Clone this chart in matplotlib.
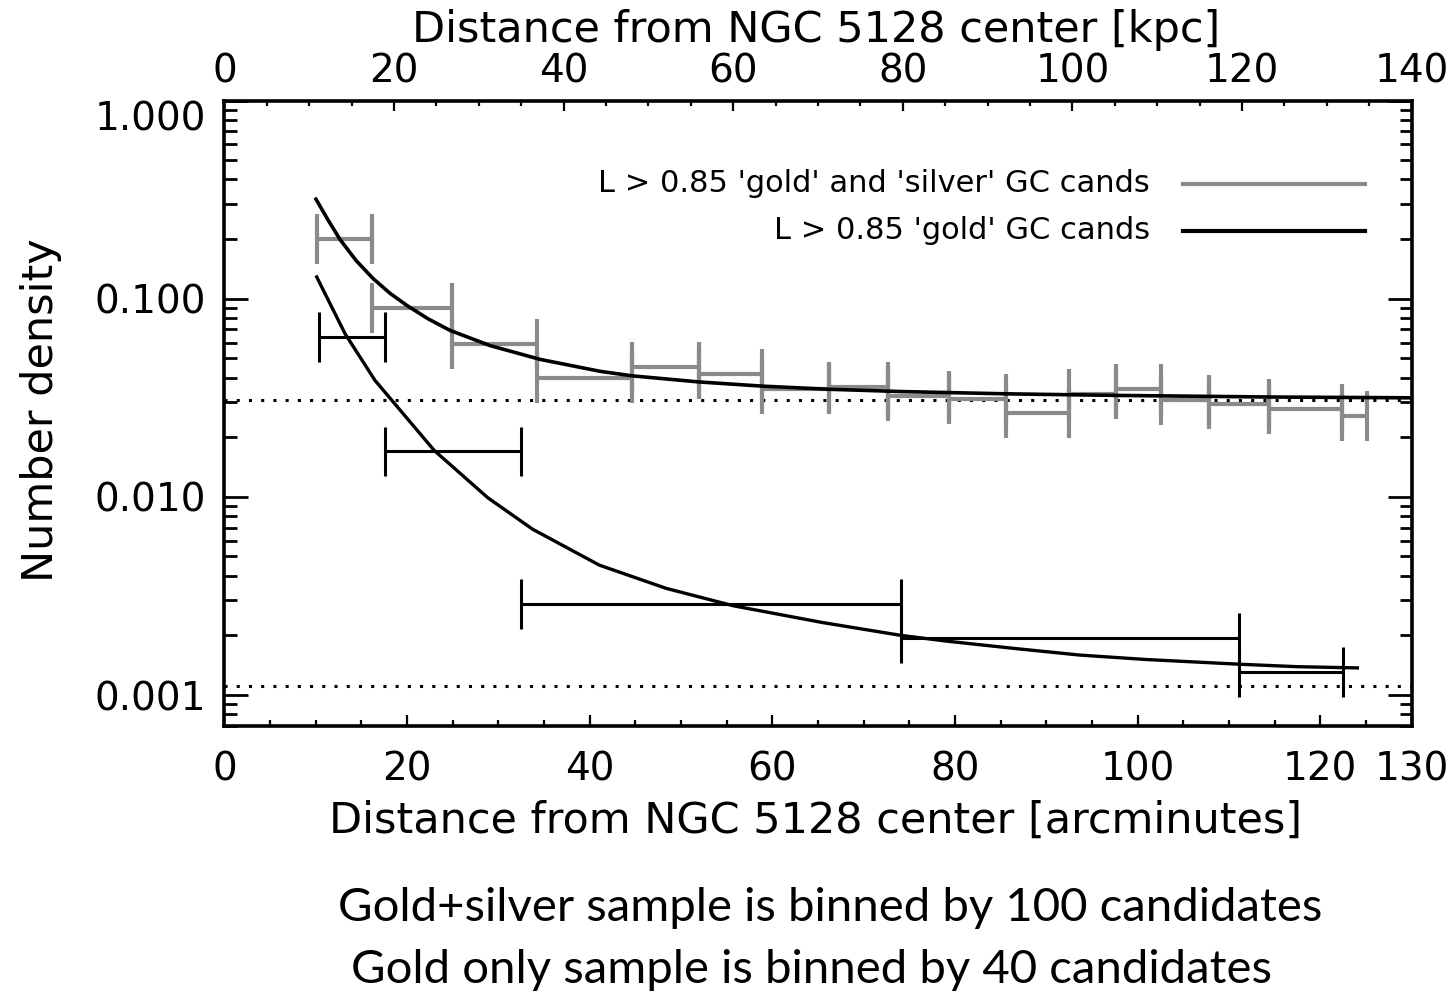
import numpy as np
import matplotlib
matplotlib.use("Agg")
import matplotlib.pyplot as plt
from matplotlib.ticker import MultipleLocator, LogLocator, NullFormatter, FixedLocator

# gold + silver sample, binned by 100 candidates (arcmin edges, density)
gs_edges = [10.16, 16.18, 24.88, 34.21, 44.66, 51.96, 58.83, 66.17, 72.63,
            79.35, 85.62, 92.47, 97.66, 102.51, 107.84, 114.33, 122.34, 125.15]
gs_dens = [0.200, 0.0897, 0.0588, 0.0398, 0.0452, 0.0418, 0.0351, 0.0359, 0.0321,
           0.0313, 0.0265, 0.0329, 0.0351, 0.0307, 0.0295, 0.0276, 0.0255]

# gold only sample, binned by 40 candidates
g_edges = [10.38, 17.58, 32.50, 74.05, 111.13, 122.51]
g_dens = [0.0642, 0.01694, 0.00288, 0.00194, 0.00130]

# fitted profiles
gs_fit_r = [10.02, 11.33, 12.65, 14.40, 16.26, 18.12, 19.98, 22.28, 24.69, 29.07,
            34.55, 41.12, 44.62, 51.96, 58.86, 66.19, 73.97, 85.58, 97.63, 114.4, 129.9]
gs_fit_n = [0.3178, 0.2500, 0.1990, 0.1560, 0.1265, 0.1065, 0.0924, 0.0792, 0.0692, 0.0580,
            0.0494, 0.0430, 0.0408, 0.0380, 0.0362, 0.0349, 0.0340, 0.0331, 0.0325, 0.0319, 0.0316]

g_fit_r = [10.10, 13.20, 16.48, 22.97, 28.84, 33.73, 41.06, 48.39, 55.73,
           65.51, 74.05, 79.08, 86.38, 93.68, 100.98, 111.13, 117.41, 124.05]
g_fit_n = [0.1287, 0.0666, 0.0387, 0.01714, 0.00989, 0.00687, 0.00452, 0.00345, 0.00282,
           0.00232, 0.00200, 0.00187, 0.00172, 0.00159, 0.00151, 0.00143, 0.00139, 0.00137]

# background levels
bg_gs = 0.0307
bg_g = 0.00111

yticks = [0.001, 0.01, 0.1, 1.0]
ytick_labels = ["0.001", "0.010", "0.100", "1.000"]

GRAY = "#8a8a8a"
cap = 10 ** 0.126

fig = plt.figure(figsize=(14.52, 10), dpi=100)
ax = fig.add_axes([0.1546, 0.2743, 0.8176, 0.6252])


def draw_bins(edges, dens, color, lw):
    left = np.array(edges[:-1])
    right = np.array(edges[1:])
    d = np.array(dens)
    ax.hlines(d, left, right, colors=color, lw=lw, zorder=3)
    ax.vlines(left, d / cap, d * cap, colors=color, lw=lw, zorder=3)
    ax.vlines(right, d / cap, d * cap, colors=color, lw=lw, zorder=3)


ax.axhline(bg_gs, color="black", ls=(0, (1, 3)), lw=2.2, zorder=2)
ax.axhline(bg_g, color="black", ls=(0, (1, 3)), lw=2.2, zorder=2)

draw_bins(gs_edges, gs_dens, GRAY, 3.0)
draw_bins(g_edges, g_dens, "black", 2.2)

ax.plot(gs_fit_r, gs_fit_n, color="black", lw=2.6, zorder=4, solid_joinstyle="round")
ax.plot(g_fit_r, g_fit_n, color="black", lw=2.4, zorder=4, solid_joinstyle="round")

ax.set_yscale("log")
ax.set_xlim(0, 130)
ax.set_ylim(0.0007, 1.0)

ax.xaxis.set_major_locator(FixedLocator([0, 20, 40, 60, 80, 100, 120, 130]))
ax.xaxis.set_minor_locator(MultipleLocator(5))
ax.yaxis.set_major_locator(FixedLocator(yticks))
ax.set_yticklabels(ytick_labels)
ax.yaxis.set_minor_locator(LogLocator(base=10, subs=np.arange(2, 10)))
ax.yaxis.set_minor_formatter(NullFormatter())
ax.get_yticklabels()[-1].set_va("top")

ax.tick_params(axis="x", which="major", direction="in", length=8, width=1.6,
               labelsize=28, pad=18, top=False)
ax.tick_params(axis="x", which="minor", direction="in", length=4, width=1.6, top=False)
ax.tick_params(axis="y", which="major", direction="in", length=17, width=2.0,
               labelsize=28, pad=13, right=True)
ax.tick_params(axis="y", which="minor", direction="in", length=9, width=2.0, right=True)

for s in ax.spines.values():
    s.set_linewidth(2.6)

# top axis in kpc
ax2 = ax.twiny()
ax2.set_xlim(0, 140)
ax2.xaxis.set_major_locator(MultipleLocator(20))
ax2.xaxis.set_minor_locator(MultipleLocator(5))
ax2.tick_params(axis="x", which="major", direction="in", length=8, width=1.6,
                labelsize=28, pad=7)
ax2.tick_params(axis="x", which="minor", direction="in", length=4, width=1.6)

# legend drawn by hand
ax.plot([0.8074, 0.9607], [0.8665, 0.8665], transform=ax.transAxes, color=GRAY, lw=3.0)
ax.plot([0.8074, 0.9607], [0.7913, 0.7913], transform=ax.transAxes, color="black", lw=3.0)
ax.text(0.7796, 0.8665, "L > 0.85 'gold' and 'silver' GC cands", transform=ax.transAxes,
        ha="right", va="center", fontsize=22)
ax.text(0.7796, 0.7913, "L > 0.85 'gold' GC cands", transform=ax.transAxes,
        ha="right", va="center", fontsize=22)

fig.text(0.562, 0.970, "Distance from NGC 5128 center [kpc]", ha="center", va="center",
         fontsize=31)
fig.text(0.562, 0.179, "Distance from NGC 5128 center [arcminutes]", ha="center",
         va="center", fontsize=31)
fig.text(0.028, 0.590, "Number density", rotation=90, ha="center", va="center",
         fontsize=31)

cap_font = ["Lato", "DejaVu Sans"]
fig.text(0.572, 0.092, "Gold+silver sample is binned by 100 candidates", ha="center",
         va="center", fontsize=34, family=cap_font)
fig.text(0.559, 0.030, "Gold only sample is binned by 40 candidates", ha="center",
         va="center", fontsize=34, family=cap_font)

fig.savefig("out.png", dpi=100)
